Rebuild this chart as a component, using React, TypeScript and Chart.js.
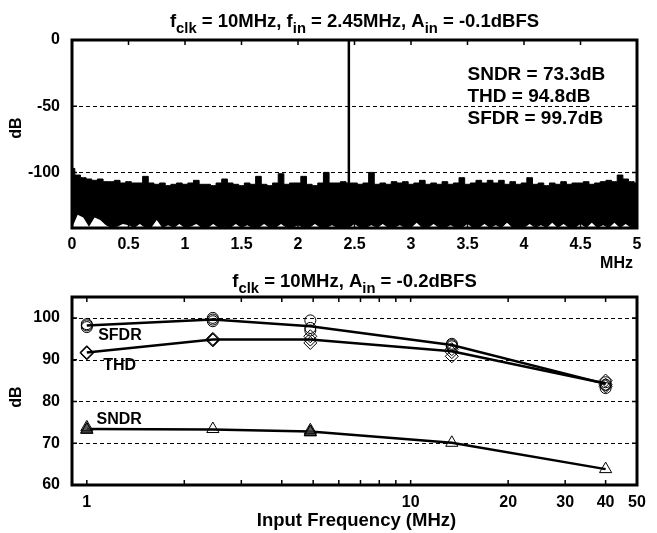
import React, { useEffect, useRef } from "react";
import { Chart, registerables } from "chart.js";

Chart.register(...registerables);

const FONT = '"Liberation Sans", Arial, Helvetica, sans-serif';

// ---------- Top panel: output spectrum ----------
const spectrumStep = 0.05; // MHz per plotted envelope bin
const spectrumFloor = -142;
const signalFreq = 2.45;
const signalLevel = -0.1;
// upper envelope of the noise floor (dB), 0 .. 5 MHz
const noiseUpper = [
  -97, -102, -104, -105, -106, -105, -107, -107, -106, -108,
  -107, -108, -108, -103, -108, -109, -108, -110, -109, -108,
  -109, -108, -106, -109, -109, -110, -108, -105, -108, -109,
  -110, -108, -109, -103, -109, -110, -108, -101, -109, -108,
  -108, -103, -109, -110, -108, -100, -108, -108, -107, -108,
  -108, -109, -108, -100, -109, -108, -109, -107, -108, -107,
  -109, -108, -106, -109, -108, -109, -107, -109, -108, -104,
  -109, -108, -106, -108, -106, -108, -106, -109, -107, -109,
  -108, -104, -109, -108, -110, -108, -109, -107, -109, -108,
  -108, -107, -109, -108, -107, -106, -107, -102, -105, -107,
  -108,
];
// lower envelope of the noise floor (dB)
const noiseLower = [
  -142, -132, -134, -141, -134, -136, -140, -142, -141, -139,
  -140, -142, -139, -142, -142, -136, -142, -140, -142, -139,
  -142, -141, -139, -142, -142, -139, -142, -141, -142, -139,
  -142, -140, -142, -142, -139, -142, -142, -139, -142, -142,
  -140, -142, -142, -139, -142, -142, -140, -142, -142, -142,
  -139, -142, -142, -140, -142, -139, -142, -142, -140, -142,
  -142, -138, -142, -142, -139, -142, -142, -140, -142, -142,
  -139, -142, -142, -139, -142, -140, -142, -138, -142, -142,
  -142, -139, -142, -140, -142, -138, -142, -139, -142, -142,
  -139, -142, -138, -142, -140, -142, -138, -142, -139, -142,
  -142,
];
const topXTicks = [0, 0.5, 1, 1.5, 2, 2.5, 3, 3.5, 4, 4.5, 5];
const topYTicks = [0, -50, -100];
const topTitle: [string, boolean][] = [
  ["f", false], ["clk", true], [" = 10MHz, f", false], ["in", true],
  [" = 2.45MHz, A", false], ["in", true], [" = -0.1dBFS", false],
];
const topMetrics = ["SNDR = 73.3dB", "THD = 94.8dB", "SFDR = 99.7dB"];

// ---------- Bottom panel: dynamic performance vs input frequency ----------
const inputFreqs = [1, 2.45, 4.9, 13.4, 40];
const sfdrMean = [98.2, 99.6, 98.0, 93.5, 84.2];
const sfdrRunA = [98.5, 100.0, 99.4, 93.8, 84.0];
const sfdrRunB = [97.8, 99.2, 97.6, 93.2, 83.2];
const sfdrRunC = [98.2, 99.6, 97.0, 93.5, 84.6];
const thdMean = [91.7, 94.8, 94.8, 92.0, 84.3];
const thdRunA = [91.7, 95.0, 95.6, 92.5, 85.0];
const thdRunB = [91.5, 94.6, 94.8, 90.8, 84.0];
const thdRunC = [91.8, 94.8, 94.0, 91.8, 83.6];
const sndrMean = [73.4, 73.3, 72.8, 70.1, 63.8];
const sndrRunA = [73.8, 73.4, 73.1, 70.1, 63.8];
const sndrRunB = [73.3, null, 72.7, null, null];
const sndrRunC = [73.2, null, 72.6, null, null];
const botXTicks = [1, 2, 3, 4, 5, 6, 7, 8, 9, 10, 20, 30, 40, 50];
const botXLabels = [1, 10, 20, 30, 40, 50];
const botYTicks = [60, 70, 80, 90, 100];
const botTitle: [string, boolean][] = [
  ["f", false], ["clk", true], [" = 10MHz, A", false], ["in", true], [" = -0.2dBFS", false],
];

const pts = (xs: number[], ys: (number | null)[]) => xs.map((x, i) => ({ x, y: ys[i] }));
const bins = noiseUpper.map((_, i) => +(i * spectrumStep).toFixed(3));

function drawText(ctx: CanvasRenderingContext2D, s: string, x: number, y: number, size: number, align: CanvasTextAlign = "left") {
  ctx.save();
  ctx.font = `bold ${size}px ${FONT}`;
  ctx.fillStyle = "#000";
  ctx.textAlign = align;
  ctx.textBaseline = "alphabetic";
  ctx.fillText(s, x, y);
  ctx.restore();
}

function drawParts(ctx: CanvasRenderingContext2D, parts: [string, boolean][], cx: number, y: number, size: number) {
  ctx.save();
  ctx.fillStyle = "#000";
  ctx.textAlign = "left";
  ctx.textBaseline = "alphabetic";
  const sub = size * 0.8;
  let total = 0;
  for (const [t, s] of parts) {
    ctx.font = `bold ${s ? sub : size}px ${FONT}`;
    total += ctx.measureText(t).width;
  }
  let x = cx - total / 2;
  for (const [t, s] of parts) {
    ctx.font = `bold ${s ? sub : size}px ${FONT}`;
    ctx.fillText(t, x, s ? y + size * 0.35 : y);
    x += ctx.measureText(t).width;
  }
  ctx.restore();
}

function drawVLabel(ctx: CanvasRenderingContext2D, s: string, x: number, y: number, size: number) {
  ctx.save();
  ctx.translate(x, y);
  ctx.rotate(-Math.PI / 2);
  ctx.font = `bold ${size}px ${FONT}`;
  ctx.fillStyle = "#000";
  ctx.textAlign = "center";
  ctx.textBaseline = "middle";
  ctx.fillText(s, 0, 0);
  ctx.restore();
}

function drawGrid(chart: any, yVals: number[]) {
  const { ctx, chartArea } = chart;
  const { left, right, top, bottom } = chartArea;
  const ys = chart.scales.y;
  ctx.save();
  ctx.strokeStyle = "#000";
  ctx.lineWidth = 1;
  ctx.setLineDash([4, 3]);
  for (const v of yVals) {
    const py = Math.round(ys.getPixelForValue(v)) + 0.5;
    if (py <= top + 2 || py >= bottom - 2) continue;
    ctx.beginPath();
    ctx.moveTo(left, py);
    ctx.lineTo(right, py);
    ctx.stroke();
  }
  ctx.restore();
}

function drawFrame(chart: any, xVals: number[], yVals: number[]) {
  const { ctx, chartArea } = chart;
  const { left, right, top, bottom } = chartArea;
  const xs = chart.scales.x;
  const ys = chart.scales.y;
  const L = 5;
  ctx.save();
  ctx.strokeStyle = "#000";
  ctx.lineWidth = 1.5;
  ctx.beginPath();
  for (const v of xVals) {
    const px = xs.getPixelForValue(v);
    ctx.moveTo(px, bottom);
    ctx.lineTo(px, bottom - L);
    ctx.moveTo(px, top);
    ctx.lineTo(px, top + L);
  }
  for (const v of yVals) {
    const py = ys.getPixelForValue(v);
    ctx.moveTo(left, py);
    ctx.lineTo(left + L, py);
    ctx.moveTo(right, py);
    ctx.lineTo(right - L, py);
  }
  ctx.stroke();
  ctx.lineWidth = 3;
  ctx.strokeRect(left, top, right - left, bottom - top);
  ctx.restore();
}

const tickFont = { family: FONT, size: 16, weight: "bold" as const };

export default function App() {
  const topRef = useRef<HTMLCanvasElement>(null);
  const botRef = useRef<HTMLCanvasElement>(null);

  useEffect(() => {
    const topPlugin = {
      id: "topDecor",
      beforeDatasetsDraw(chart: any) {
        drawGrid(chart, topYTicks);
      },
      afterDatasetsDraw(chart: any) {
        drawFrame(chart, topXTicks, topYTicks);
      },
      afterDraw(chart: any) {
        const { ctx, chartArea } = chart;
        const xs = chart.scales.x;
        const ys = chart.scales.y;
        drawParts(ctx, topTitle, (chartArea.left + chartArea.right) / 2, chartArea.top - 13, 18.5);
        const mx = xs.getPixelForValue(3.5);
        const my = [-30, -46.5, -63.3];
        topMetrics.forEach((s, i) => drawText(ctx, s, mx, ys.getPixelForValue(my[i]), 19));
        drawText(ctx, "MHz", chartArea.right - 4, chartArea.bottom + 40, 16, "right");
        drawVLabel(ctx, "dB", 17, (chartArea.top + chartArea.bottom) / 2 - 6, 16);
      },
    };

    const botPlugin = {
      id: "botDecor",
      beforeDatasetsDraw(chart: any) {
        drawGrid(chart, botYTicks);
      },
      afterDatasetsDraw(chart: any) {
        drawFrame(chart, botXTicks, botYTicks);
      },
      afterDraw(chart: any) {
        const { ctx, chartArea } = chart;
        const xs = chart.scales.x;
        const ys = chart.scales.y;
        drawParts(ctx, botTitle, (chartArea.left + chartArea.right) / 2, chartArea.top - 10, 18.5);
        drawText(ctx, "SFDR", xs.getPixelForValue(1.084), ys.getPixelForValue(94.8), 16);
        drawText(ctx, "THD", xs.getPixelForValue(1.123), ys.getPixelForValue(87.6), 16);
        drawText(ctx, "SNDR", xs.getPixelForValue(1.071), ys.getPixelForValue(74.6), 16);
        drawText(ctx, "Input Frequency (MHz)", (chartArea.left + chartArea.right) / 2 + 2, chartArea.bottom + 41, 18.5, "center");
        drawVLabel(ctx, "dB", 17, (chartArea.top + chartArea.bottom) / 2 + 6, 16);
      },
    };

    const top = new Chart(topRef.current!, {
      type: "line",
      data: {
        datasets: [
          {
            data: pts(bins, noiseLower),
            borderWidth: 0,
            borderColor: "rgba(0,0,0,0)",
            pointRadius: 0,
            fill: false,
          },
          {
            data: pts(bins, noiseUpper),
            borderWidth: 1,
            borderColor: "#000",
            backgroundColor: "#000",
            pointRadius: 0,
            stepped: "middle",
            fill: "-1",
          },
          {
            data: [
              { x: signalFreq, y: spectrumFloor },
              { x: signalFreq, y: signalLevel },
            ],
            borderWidth: 2.5,
            borderColor: "#000",
            pointRadius: 0,
            fill: false,
          },
        ],
      },
      options: {
        responsive: false,
        animation: false,
        events: [],
        layout: { padding: { left: 0, right: 20, top: 40, bottom: 0 } },
        plugins: { legend: { display: false }, tooltip: { enabled: false }, title: { display: false } },
        scales: {
          x: {
            type: "linear",
            min: 0,
            max: 5,
            grid: { display: false },
            border: { display: false },
            ticks: { font: tickFont, color: "#000", padding: -1, autoSkip: false, maxRotation: 0, callback: (v: any) => String(v) },
            afterBuildTicks: (s: any) => {
              s.ticks = topXTicks.map((value) => ({ value }));
            },
            afterFit: (s: any) => {
              s.height = 52;
            },
          },
          y: {
            type: "linear",
            min: spectrumFloor,
            max: 0,
            grid: { display: false },
            border: { display: false },
            ticks: { font: tickFont, color: "#000", padding: 4, autoSkip: false, callback: (v: any) => String(v) },
            afterBuildTicks: (s: any) => {
              s.ticks = topYTicks.map((value) => ({ value }));
            },
            afterFit: (s: any) => {
              s.width = 72;
            },
          },
        },
      },
      plugins: [topPlugin],
    } as any);

    const lineDs = (ys: number[]) => ({
      data: pts(inputFreqs, ys),
      borderColor: "#000",
      borderWidth: 2.5,
      pointRadius: 0,
      fill: false,
    });
    const markDs = (ys: (number | null)[], style: string, radius: number, bg = "rgba(0,0,0,0)") => ({
      data: pts(inputFreqs, ys),
      showLine: false,
      pointStyle: style,
      pointRadius: radius,
      pointBorderWidth: 1,
      pointBorderColor: "#000",
      pointBackgroundColor: bg,
      borderColor: "#000",
      backgroundColor: bg,
    });

    const bot = new Chart(botRef.current!, {
      type: "line",
      data: {
        datasets: [
          markDs(sfdrRunA, "circle", 5.5),
          markDs(sfdrRunB, "circle", 5.5),
          markDs(sfdrRunC, "circle", 5.5),
          markDs(thdRunA, "rectRot", 6.5),
          markDs(thdRunB, "rectRot", 6.5),
          markDs(thdRunC, "rectRot", 6.5),
          markDs(sndrRunA, "triangle", 7),
          markDs(sndrRunB, "triangle", 7, "rgba(60,60,60,0.6)"),
          markDs(sndrRunC, "triangle", 7, "rgba(60,60,60,0.6)"),
          lineDs(sfdrMean),
          lineDs(thdMean),
          lineDs(sndrMean),
        ],
      },
      options: {
        responsive: false,
        animation: false,
        events: [],
        layout: { padding: { left: 0, right: 20, top: 35, bottom: 0 } },
        plugins: { legend: { display: false }, tooltip: { enabled: false }, title: { display: false } },
        scales: {
          x: {
            type: "logarithmic",
            min: 0.9,
            max: 50,
            grid: { display: false },
            border: { display: false },
            ticks: {
              font: tickFont,
              color: "#000",
              padding: 0,
              autoSkip: false,
              maxRotation: 0,
              callback: (v: any) => (botXLabels.includes(Number(v)) ? String(v) : ""),
            },
            afterBuildTicks: (s: any) => {
              s.ticks = botXTicks.map((value) => ({ value }));
            },
            afterFit: (s: any) => {
              s.height = 48;
            },
          },
          y: {
            type: "linear",
            min: 60,
            max: 105,
            grid: { display: false },
            border: { display: false },
            ticks: { font: tickFont, color: "#000", padding: 4, autoSkip: false, callback: (v: any) => String(v) },
            afterBuildTicks: (s: any) => {
              s.ticks = botYTicks.map((value) => ({ value }));
            },
            afterFit: (s: any) => {
              s.width = 72;
            },
          },
        },
      },
      plugins: [botPlugin],
    } as any);

    return () => {
      top.destroy();
      bot.destroy();
    };
  }, []);

  return (
    <div style={{ position: "fixed", left: 0, top: 0, width: 657, height: 533, background: "#fff" }}>
      <canvas ref={topRef} width={657} height={280} style={{ position: "absolute", left: 0, top: 0 }} />
      <canvas ref={botRef} width={657} height={271} style={{ position: "absolute", left: 0, top: 262 }} />
    </div>
  );
}
